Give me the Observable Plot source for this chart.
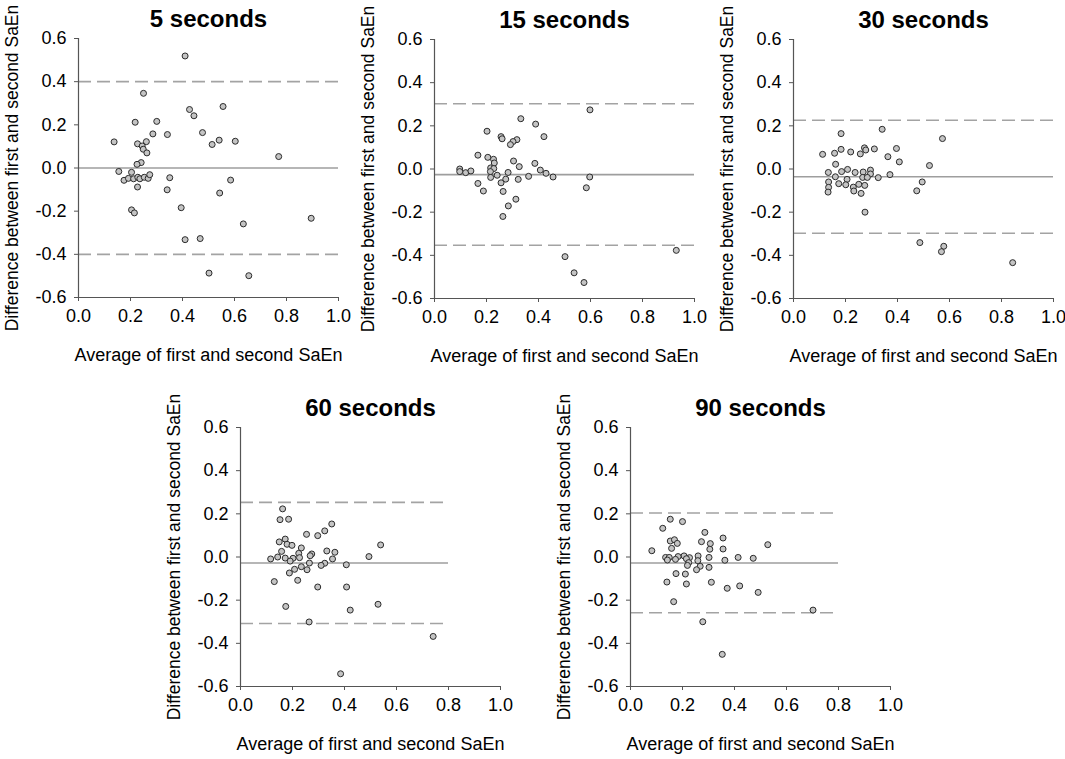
<!DOCTYPE html>
<html>
<head>
<meta charset="utf-8">
<script src="https://cdn.jsdelivr.net/npm/d3@7"></script>
<script src="https://cdn.jsdelivr.net/npm/@observablehq/plot@0.6"></script>
<style>
  html, body { margin: 0; padding: 0; background: #fff; overflow: hidden; }
  #wrap { position: relative; width: 1065px; height: 759px; }
  .panel { position: absolute; }
</style>
</head>
<body>
<div id="wrap"></div>
<script>
// ---- Data ----
const titles = ["5 seconds", "15 seconds", "30 seconds", "60 seconds", "90 seconds"];
const xTicks = [0, 0.2, 0.4, 0.6, 0.8, 1.0];
const yTicks = [-0.6, -0.4, -0.2, 0, 0.2, 0.4, 0.6];
const xLabel = "Average of first and second SaEn";
const yLabel = "Difference between first and second SaEn";

const means = [0.0, -0.026, -0.036, -0.028, -0.028];
const upperLoA = [0.40, 0.302, 0.226, 0.253, 0.204];
const lowerLoA = [-0.40, -0.353, -0.298, -0.308, -0.258];
const lineEnds = [1.0, 1.0, 1.0, 0.8, 0.8];

const avg5 = [0.410,0.250,0.427,0.444,0.556,0.218,0.301,0.286,0.342,0.477,0.541,0.514,0.603,0.137,0.227,0.261,0.245,0.249,0.263,0.770,0.241,0.225,0.155,0.204,0.175,0.192,0.212,0.228,0.236,0.253,0.268,0.274,0.351,0.227,0.341,0.585,0.543,0.395,0.204,0.215,0.634,0.895,0.410,0.468,0.502,0.655];
const diff5 = [0.519,0.346,0.271,0.242,0.285,0.212,0.216,0.158,0.155,0.164,0.129,0.109,0.124,0.121,0.112,0.122,0.102,0.087,0.070,0.053,0.025,0.017,-0.016,-0.020,-0.057,-0.048,-0.050,-0.043,-0.050,-0.043,-0.048,-0.031,-0.045,-0.088,-0.101,-0.056,-0.116,-0.184,-0.194,-0.208,-0.259,-0.233,-0.332,-0.327,-0.487,-0.499];

const avg15 = [0.598,0.332,0.389,0.202,0.421,0.256,0.260,0.317,0.302,0.292,0.167,0.205,0.227,0.230,0.304,0.386,0.097,0.097,0.120,0.140,0.216,0.228,0.215,0.216,0.241,0.283,0.326,0.407,0.429,0.362,0.456,0.597,0.322,0.274,0.256,0.167,0.188,0.264,0.584,0.313,0.284,0.263,0.502,0.537,0.575,0.930];
const diff15 = [0.274,0.233,0.208,0.175,0.150,0.150,0.140,0.136,0.127,0.113,0.064,0.054,0.045,0.028,0.037,0.026,0.000,-0.012,-0.017,-0.009,0.005,0.002,-0.012,-0.039,-0.029,-0.016,0.011,-0.005,-0.020,-0.034,-0.037,-0.037,-0.048,-0.047,-0.064,-0.067,-0.102,-0.104,-0.087,-0.140,-0.171,-0.220,-0.406,-0.481,-0.526,-0.377];

const avg30 = [0.341,0.183,0.573,0.273,0.183,0.278,0.311,0.396,0.112,0.220,0.158,0.257,0.363,0.407,0.162,0.523,0.208,0.296,0.134,0.185,0.237,0.268,0.296,0.161,0.206,0.266,0.284,0.326,0.371,0.495,0.135,0.174,0.201,0.251,0.274,0.135,0.230,0.232,0.133,0.260,0.474,0.275,0.486,0.578,0.569,0.843];
const diff30 = [0.184,0.164,0.141,0.098,0.091,0.088,0.093,0.095,0.068,0.079,0.073,0.070,0.057,0.033,0.022,0.016,-0.002,-0.005,-0.016,-0.012,-0.016,-0.014,-0.023,-0.036,-0.048,-0.039,-0.039,-0.040,-0.026,-0.060,-0.060,-0.068,-0.073,-0.071,-0.076,-0.085,-0.084,-0.102,-0.107,-0.113,-0.101,-0.200,-0.341,-0.358,-0.383,-0.434];

const avg60 = [0.162,0.152,0.185,0.351,0.324,0.254,0.297,0.172,0.149,0.179,0.198,0.539,0.234,0.158,0.332,0.363,0.224,0.274,0.268,0.143,0.494,0.116,0.172,0.202,0.227,0.191,0.354,0.265,0.324,0.310,0.407,0.234,0.208,0.256,0.188,0.130,0.220,0.297,0.408,0.529,0.174,0.422,0.264,0.741,0.385];
const diff60 = [0.223,0.173,0.175,0.153,0.121,0.105,0.099,0.083,0.070,0.059,0.054,0.056,0.042,0.026,0.028,0.022,0.017,0.014,0.006,0.000,0.002,-0.009,-0.005,-0.006,-0.003,-0.019,-0.009,-0.028,-0.029,-0.039,-0.036,-0.045,-0.057,-0.059,-0.074,-0.114,-0.108,-0.139,-0.139,-0.219,-0.229,-0.246,-0.301,-0.368,-0.541];

const avg90 = [0.153,0.200,0.124,0.286,0.356,0.153,0.169,0.273,0.180,0.307,0.528,0.158,0.305,0.356,0.082,0.206,0.135,0.149,0.183,0.227,0.260,0.302,0.414,0.472,0.142,0.173,0.215,0.259,0.363,0.224,0.219,0.268,0.302,0.254,0.175,0.211,0.140,0.215,0.311,0.420,0.372,0.491,0.166,0.702,0.278,0.353];
const diff90 = [0.175,0.164,0.133,0.114,0.088,0.074,0.080,0.071,0.063,0.062,0.057,0.040,0.036,0.037,0.029,0.005,-0.002,-0.002,0.002,-0.003,0.005,-0.002,-0.002,-0.006,-0.014,-0.011,-0.008,-0.017,-0.015,-0.026,-0.039,-0.043,-0.048,-0.059,-0.077,-0.079,-0.116,-0.125,-0.117,-0.134,-0.145,-0.164,-0.207,-0.246,-0.300,-0.451];

const avgs = [avg5, avg15, avg30, avg60, avg90];
const diffs = [diff5, diff15, diff30, diff60, diff90];

// panel placement (svg top-left)
const places = [[0, 0], [356, 1], [715, 1], [162, 389], [552, 389]];

const FONT = "'Liberation Sans', Arial, Helvetica, sans-serif";
const fmt = d => d.toFixed(1);

function panel(i) {
  const pts = avgs[i].map((x, k) => ({x, y: diffs[i][k]}));
  const end = lineEnds[i];
  const p = Plot.plot({
    width: 352,
    height: 370,
    marginLeft: 78,
    marginTop: 38,
    marginRight: 14,
    marginBottom: 73,
    x: {domain: [0, 1]},
    y: {domain: [-0.6, 0.6]},
    style: {fontFamily: FONT, fontSize: "18px", color: "#000", background: "transparent", overflow: "visible"},
    marks: [
      Plot.ruleY([means[i]], {x1: 0, x2: end, stroke: "#9e9e9e", strokeWidth: 1.6}),
      Plot.ruleY([upperLoA[i], lowerLoA[i]], {x1: 0, x2: end, stroke: "#a3a3a3", strokeWidth: 1.6, strokeDasharray: "13,6"}),
      Plot.ruleX([0], {y1: -0.6, y2: 0.6, stroke: "#555", strokeWidth: 1.2}),
      Plot.ruleY([-0.6], {x1: 0, x2: 1, stroke: "#555", strokeWidth: 1.2}),
      Plot.axisX({ticks: xTicks, tickFormat: fmt, tickSize: 4, tickPadding: 8, stroke: "#555", fill: "#000", fontSize: 18, label: null}),
      Plot.axisY({ticks: yTicks, tickFormat: fmt, tickSize: 4, tickPadding: 8, stroke: "#555", fill: "#000", fontSize: 18, label: null}),
      Plot.dot(pts, {x: "x", y: "y", r: 3, fill: "#c4c4c4", stroke: "#2b2b2b", strokeWidth: 1}),
      Plot.text([titles[i]], {frameAnchor: "top", dy: -19, lineAnchor: "middle", fontSize: 24, fontWeight: "bold", fill: "#000"}),
      Plot.text([xLabel], {frameAnchor: "bottom", dy: 58, lineAnchor: "middle", fontSize: 18, fill: "#000"}),
      Plot.text([yLabel], {frameAnchor: "left", textAnchor: "middle", dx: -66, rotate: -90, lineAnchor: "middle", fontSize: 17.5, fill: "#000"})
    ]
  });
  p.classList.add("panel");
  p.style.left = places[i][0] + "px";
  p.style.top = places[i][1] + "px";
  document.getElementById("wrap").appendChild(p);
}

for (let i = 0; i < 5; i++) panel(i);
</script>
</body>
</html>
